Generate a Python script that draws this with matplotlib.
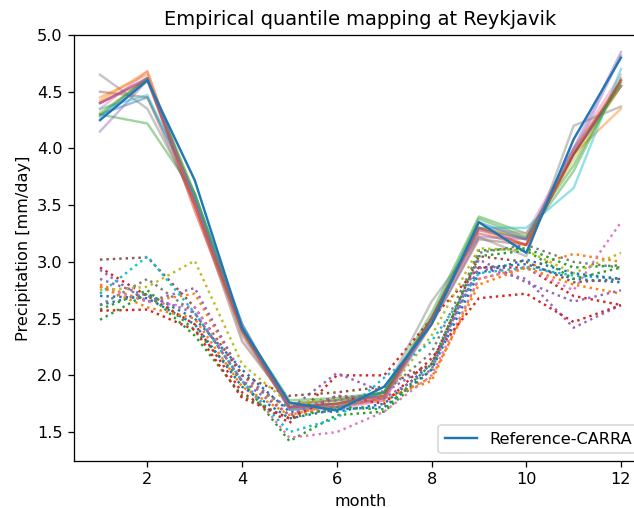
import numpy as np
import matplotlib
matplotlib.use("Agg")
import matplotlib.pyplot as plt

months = np.arange(1, 13)

# CARRA reference climatology (mm/day)
reference = [4.25, 4.60, 3.72, 2.42, 1.76, 1.69, 1.90, 2.45, 3.35, 3.08, 4.08, 4.80]

# raw model climatologies (dotted)
raw = [
    [2.62, 2.72, 2.50, 2.05, 1.68, 1.68, 1.75, 2.10, 2.95, 2.98, 2.85, 2.82],
    [2.80, 2.65, 2.72, 2.00, 1.65, 1.72, 1.80, 1.95, 2.85, 2.95, 3.07, 3.00],
    [2.58, 2.75, 2.40, 1.95, 1.42, 1.65, 1.68, 2.05, 3.10, 3.12, 2.95, 2.97],
    [2.95, 2.70, 2.45, 1.85, 1.58, 2.00, 2.00, 2.50, 2.95, 2.95, 2.70, 2.62],
    [2.93, 2.65, 2.77, 2.00, 1.70, 2.02, 1.85, 2.10, 2.95, 2.85, 2.42, 2.62],
    [3.02, 3.04, 2.60, 2.00, 1.82, 1.85, 1.90, 2.10, 3.05, 3.00, 2.82, 2.85],
    [2.78, 2.65, 2.60, 1.95, 1.45, 1.50, 1.68, 2.00, 2.85, 2.95, 2.75, 3.35],
    [2.62, 2.85, 2.55, 1.95, 1.72, 1.78, 1.85, 2.20, 3.08, 3.15, 3.00, 2.95],
    [2.75, 2.78, 3.01, 2.10, 1.75, 1.80, 1.82, 2.35, 3.12, 3.10, 2.90, 3.08],
    [2.72, 3.05, 2.55, 1.95, 1.50, 1.62, 1.98, 2.30, 2.90, 2.95, 2.88, 2.85],
    [2.70, 2.68, 2.45, 1.90, 1.62, 1.70, 1.72, 2.05, 2.90, 3.02, 2.90, 2.85],
    [2.78, 2.60, 2.50, 1.90, 1.65, 1.75, 1.78, 1.98, 2.80, 2.95, 2.80, 2.72],
    [2.49, 2.72, 2.35, 1.82, 1.62, 1.72, 1.70, 2.10, 3.05, 3.10, 2.85, 2.95],
    [2.57, 2.58, 2.40, 1.80, 1.62, 1.82, 1.75, 2.15, 2.68, 2.72, 2.47, 2.62],
    [2.85, 2.70, 2.55, 1.95, 1.65, 1.82, 1.80, 2.05, 3.02, 2.82, 2.65, 2.75],
]

# bias-adjusted climatologies after empirical quantile mapping (solid)
adjusted = [
    [4.30, 4.45, 3.60, 2.45, 1.72, 1.72, 1.85, 2.50, 3.30, 3.20, 4.00, 4.55],
    [4.45, 4.65, 3.55, 2.40, 1.72, 1.75, 1.82, 2.50, 3.30, 3.20, 3.95, 4.35],
    [4.30, 4.22, 3.60, 2.40, 1.75, 1.78, 1.85, 2.55, 3.40, 3.25, 3.85, 4.60],
    [4.40, 4.62, 3.45, 2.38, 1.70, 1.72, 1.80, 2.50, 3.25, 3.15, 3.95, 4.55],
    [4.15, 4.60, 3.55, 2.45, 1.70, 1.72, 1.78, 2.45, 3.22, 3.20, 3.95, 4.82],
    [4.50, 4.45, 3.50, 2.30, 1.75, 1.78, 1.82, 2.45, 3.20, 3.15, 3.95, 4.55],
    [4.35, 4.68, 3.50, 2.45, 1.70, 1.70, 1.78, 2.50, 3.30, 3.25, 4.00, 4.65],
    [4.65, 4.35, 3.55, 2.35, 1.72, 1.75, 1.85, 2.65, 3.22, 3.05, 4.20, 4.37],
    [4.32, 4.60, 3.60, 2.40, 1.75, 1.75, 1.85, 2.50, 3.30, 3.22, 3.90, 4.55],
    [4.35, 4.47, 3.60, 2.45, 1.70, 1.72, 1.85, 2.50, 3.30, 3.30, 3.65, 4.70],
    [4.28, 4.62, 3.55, 2.40, 1.72, 1.75, 1.85, 2.50, 3.35, 3.20, 3.95, 4.58],
    [4.42, 4.68, 3.50, 2.40, 1.72, 1.72, 1.80, 2.50, 3.28, 3.15, 3.98, 4.60],
    [4.30, 4.62, 3.60, 2.42, 1.78, 1.80, 1.85, 2.50, 3.38, 3.22, 3.80, 4.62],
    [4.40, 4.60, 3.50, 2.40, 1.72, 1.75, 1.82, 2.50, 3.30, 3.15, 3.95, 4.60],
    [4.40, 4.62, 3.55, 2.42, 1.72, 1.73, 1.80, 2.48, 3.28, 3.20, 4.00, 4.85],
]

fig = plt.figure(figsize=(634 / 116, 508 / 116), dpi=116)
ax = fig.add_axes([0.1167, 0.0925, 0.9038, 0.8386])

for i, (r, a) in enumerate(zip(raw, adjusted)):
    c = f"C{i % 10}"
    ax.plot(months, r, color=c, linestyle=":")
    ax.plot(months, a, color=c, alpha=0.45)

ax.plot(months, reference, color="C0", label="Reference-CARRA")

ax.set_ylim(1.245, 5.0)
ax.set_title("Empirical quantile mapping at Reykjavik")
ax.set_xlabel("month")
ax.set_ylabel("Precipitation [mm/day]")
ax.legend(loc="lower right")

fig.savefig("out.png", dpi=116)
